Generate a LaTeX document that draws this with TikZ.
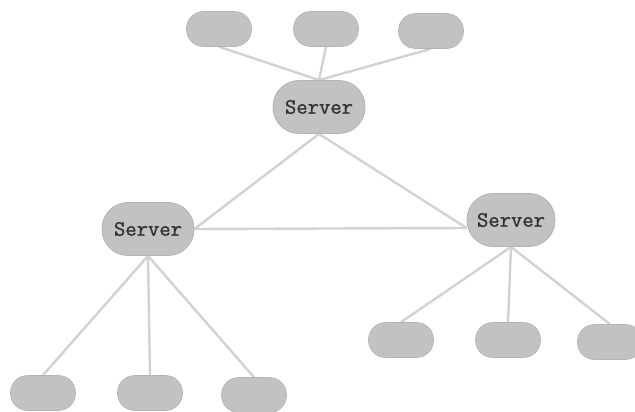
\documentclass[tikz,border=0pt]{standalone}
\usepackage{fontspec}
\newfontfamily\serverfont[AutoFakeBold=1.2]{Latin Modern Mono}
\usetikzlibrary{backgrounds}
\definecolor{nodefill}{HTML}{C2C2C2}
\definecolor{nodeedge}{HTML}{B4B4B4}
\definecolor{linkgray}{HTML}{D2D2D2}
\definecolor{labelgray}{HTML}{333333}
\tikzset{
  client/.style={draw=nodeedge, line width=0.6pt, fill=nodefill,
    rectangle, rounded corners=17pt, minimum width=65pt, minimum height=35pt,
    inner sep=0pt},
  server/.style={draw=nodeedge, line width=0.8pt, fill=nodefill,
    rectangle, rounded corners=26pt, minimum width=92pt, minimum height=53pt,
    inner sep=0pt, font=\serverfont\bfseries\fontsize{22}{24}\selectfont,
    text=labelgray},
  link/.style={draw=linkgray, line width=2.4pt}
}
\begin{document}
\begin{tikzpicture}[x=1pt, y=-1pt]
  \useasboundingbox (0,0) rectangle (635,412);

  % servers
  \node[server] (ts) at (319,107) {Server};
  \node[server] (ls) at (148,229) {Server};
  \node[server, minimum width=88pt] (rs) at (511,220) {Server};

  % clients around the top server
  \node[client] (t1) at (219,29) {};
  \node[client] (t2) at (326,29) {};
  \node[client] (t3) at (431,31) {};

  % clients under the left server
  \node[client] (b1) at (43,393) {};
  \node[client] (b2) at (150,393) {};
  \node[client] (b3) at (254,395) {};

  % clients under the right server
  \node[client] (r1) at (401,340) {};
  \node[client] (r2) at (508,340) {};
  \node[client] (r3) at (610,342) {};

  \begin{scope}[on background layer]
    % top star
    \draw[link] (t1.south) -- (ts.north);
    \draw[link] (t2.south) -- (ts.north);
    \draw[link] (t3.south) -- (ts.north);
    % backbone triangle
    \draw[link] (ts.south) -- (ls.east);
    \draw[link] (ts.south) -- ([yshift=-8pt]rs.west);
    \draw[link] (ls.east) -- ([yshift=-8pt]rs.west);
    % left star
    \draw[link] (ls.south) -- (b1.north);
    \draw[link] (ls.south) -- (b2.north);
    \draw[link] (ls.south) -- (b3.north);
    % right star
    \draw[link] (rs.south) -- (r1.north);
    \draw[link] (rs.south) -- (r2.north);
    \draw[link] (rs.south) -- (r3.north);
  \end{scope}
\end{tikzpicture}
\end{document}
